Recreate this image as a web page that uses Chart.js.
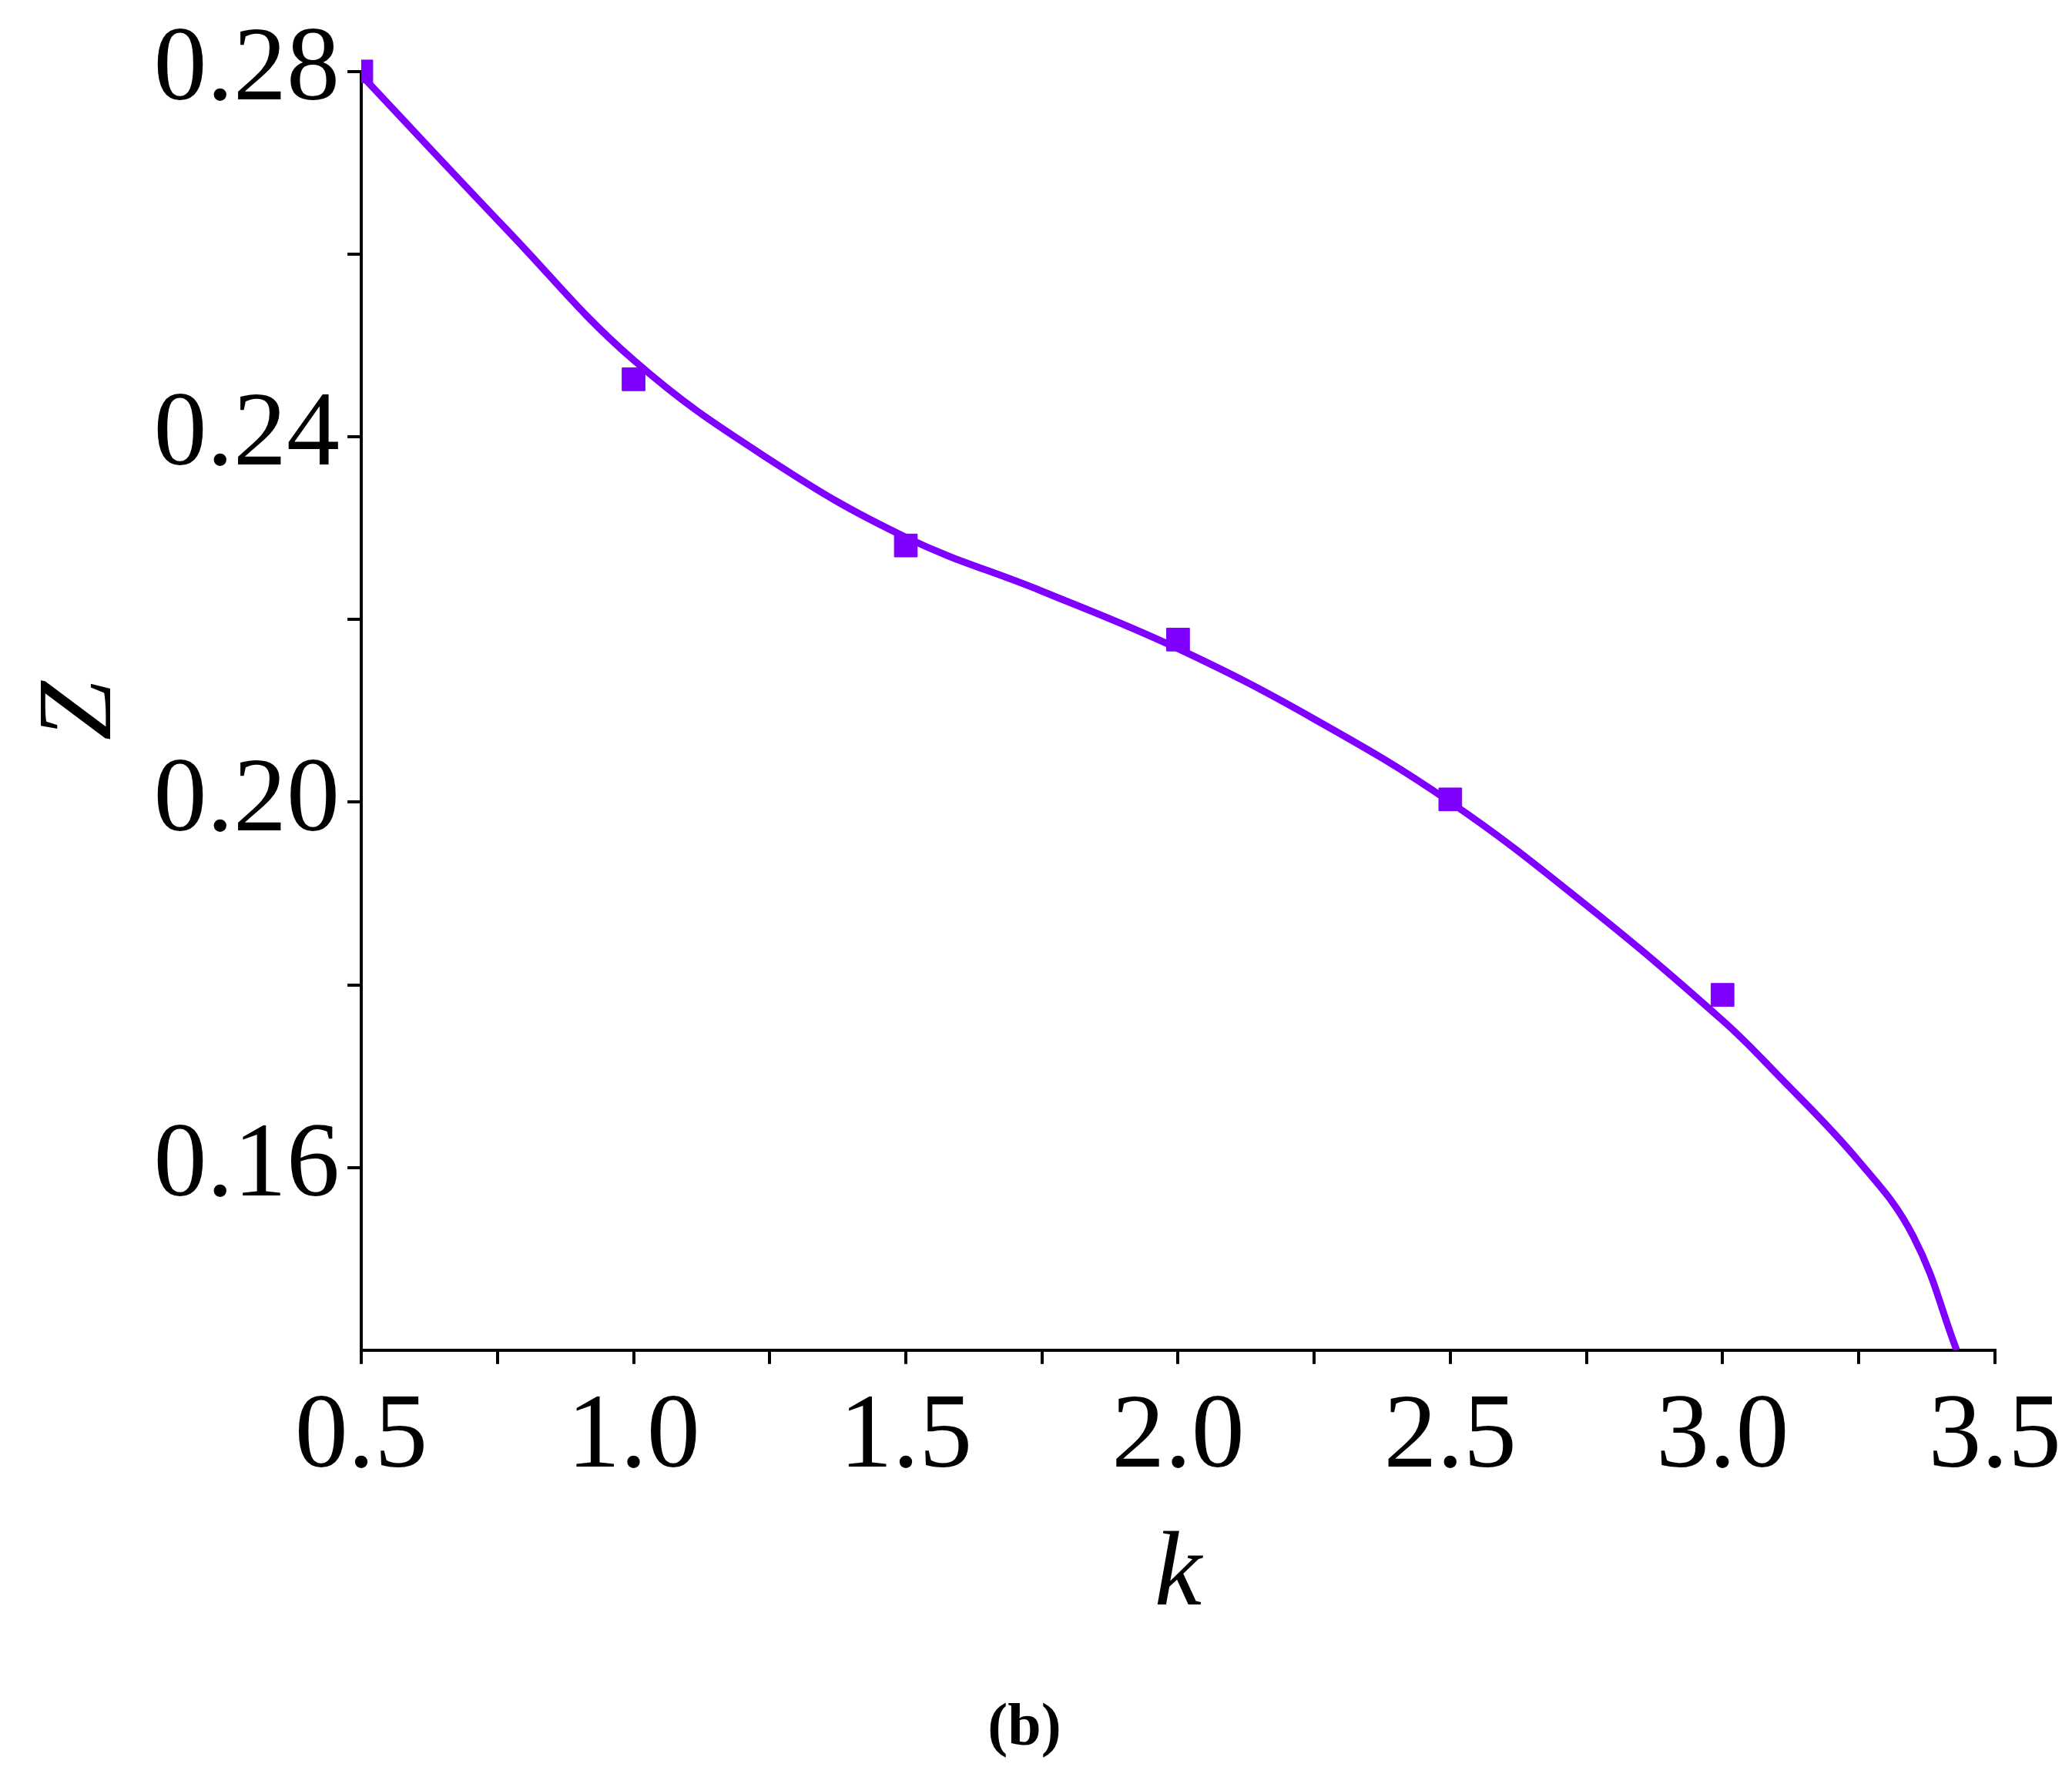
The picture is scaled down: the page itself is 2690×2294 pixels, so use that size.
<!DOCTYPE html>
<html><head><meta charset="utf-8">
<script src="https://cdn.jsdelivr.net/npm/chart.js@4"></script>
<style>html,body{margin:0;padding:0;background:#fff}#w{width:2690px;height:2294px}</style>
</head><body><div id="w"><canvas id="c"></canvas></div>
<script>
const pointK = [1.0, 1.5, 2.0, 2.5, 3.0];
const pointZ = [0.2463, 0.2281, 0.2178, 0.2003, 0.1789];
const curveK = [0.5, 0.77, 1.0, 1.25, 1.5, 1.75, 2.0, 2.25, 2.5, 2.75, 3.0, 3.1, 3.25, 3.35, 3.43];
const curveZ = [0.2796, 0.2625, 0.2484, 0.2375, 0.229, 0.2231, 0.2168, 0.2091, 0.2, 0.1887, 0.1761, 0.1702, 0.1607, 0.1525, 0.140];
const xTicks = [0.5, 1.0, 1.5, 2.0, 2.5, 3.0, 3.5];
const yTicks = [0.16, 0.20, 0.24, 0.28];
const col = '#8000FF';
const font = 'Liberation Serif';

const caption = {id:'cap', afterDraw(ch){const c=ch.ctx;c.save();c.fillStyle='#000';c.font='bold 78px "'+font+'"';c.textAlign='center';c.textBaseline='middle';c.fillText('(b)',1330,2245);c.restore();}};

new Chart(document.getElementById('c'), {
  type:'scatter',
  data:{datasets:[
    {type:'line', data:curveK.map((k,i)=>({x:k,y:curveZ[i]})), borderColor:col, borderWidth:9, pointRadius:0, tension:0.4, fill:false},
    {data:pointK.map((k,i)=>({x:k,y:pointZ[i]})), pointStyle:'rect', pointRadius:21, backgroundColor:col, borderColor:col},
    {data:[{x:0.5,y:0.28}], pointStyle:'rect', pointRadius:21, backgroundColor:col, borderColor:col, clip:{left:0,top:false,right:false,bottom:false}}
  ]},
  options:{responsive:true, maintainAspectRatio:false, animation:false,
    layout:{padding:{left:20,right:95,top:30,bottom:160}},
    plugins:{legend:{display:false},tooltip:{enabled:false}},
    scales:{
      x:{type:'linear',min:0.5,max:3.5,
        afterBuildTicks(s){const t=[];for(let v=0.5;v<=3.501;v+=0.25)t.push({value:+v.toFixed(2)});s.ticks=t;},
        ticks:{autoSkip:false,maxRotation:0,color:'#000',font:{family:font,size:138},padding:14,
          callback:v=>xTicks.some(t=>Math.abs(t-v)<1e-6)?v.toFixed(1):''},
        grid:{drawOnChartArea:false,color:'#000',lineWidth:4,tickLength:18},
        border:{color:'#000',width:4},
        title:{display:true,text:'k',color:'#000',font:{family:font,size:138,style:'italic'},padding:{top:0}}},
      y:{type:'linear',min:0.14,max:0.28,
        afterBuildTicks(s){const t=[];for(let v=0.16;v<=0.2801;v+=0.02)t.push({value:+v.toFixed(2)});s.ticks=t;},
        ticks:{autoSkip:false,color:'#000',font:{family:font,size:138},padding:10,
          callback:v=>yTicks.some(t=>Math.abs(t-v)<1e-6)?v.toFixed(2):''},
        grid:{drawOnChartArea:false,color:'#000',lineWidth:4,tickLength:18},
        border:{color:'#000',width:4},
        title:{display:true,text:'Z',color:'#000',font:{family:font,size:138,style:'italic'},padding:{bottom:0}}}
    }},
  plugins:[caption]
});
</script></body></html>
